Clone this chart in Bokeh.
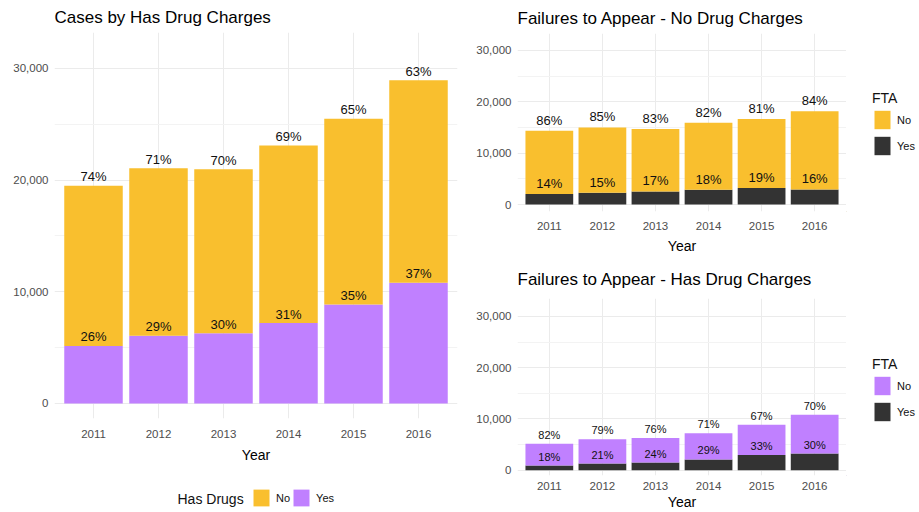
from bokeh.plotting import figure
from bokeh.models import (Range1d, FixedTicker, NumeralTickFormatter, Legend,
                          LegendItem, ColumnDataSource)
from bokeh.core.properties import value
from bokeh.layouts import row, column
from bokeh.embed import file_html
from bokeh.resources import INLINE

# ---------------- data ----------------
years = [2011, 2012, 2013, 2014, 2015, 2016]
# cases without drug charges, split by failure to appear
nodrug_fta_no = [12300, 12700, 12150, 13000, 13420, 15200]
nodrug_fta_yes = [2050, 2300, 2550, 2900, 3230, 2950]
# cases with drug charges, split by failure to appear
drug_fta_no = [4230, 4760, 4780, 5100, 5900, 7550]
drug_fta_yes = [920, 1300, 1500, 2100, 2950, 3250]

y_ticks = [0, 10000, 20000, 30000]
y_minor = [5000, 15000, 25000]
legend_labels = ["No", "Yes"]

YELLOW = "#F9BF2E"
PURPLE = "#C080FF"
DARK = "#333333"
GRID = "#EBEBEB"
FONT = "Liberation Sans"

no_drug_total = [a + b for a, b in zip(nodrug_fta_no, nodrug_fta_yes)]
drug_total = [a + b for a, b in zip(drug_fta_no, drug_fta_yes)]
xs = list(range(1, len(years) + 1))


def pct(part, whole):
    return [f"{round(100 * p / w)}%" for p, w in zip(part, whole)]


def make_fig(width, height, borders, title, title_standoff, y_rng,
             tick_standoff, label_standoff):
    p = figure(width=width, height=height, output_backend="svg",
               toolbar_location=None,
               x_range=Range1d(0.4, len(years) + 0.6),
               y_range=Range1d(*y_rng),
               min_border_left=borders[0], min_border_right=borders[1],
               min_border_top=borders[2], min_border_bottom=borders[3],
               title=title)
    p.outline_line_color = None
    p.background_fill_color = "white"
    p.border_fill_color = "white"
    p.title.text_font = FONT
    p.title.text_font_size = "17px"
    p.title.text_font_style = "normal"
    p.title.text_color = "#000000"
    p.title.align = "left"
    p.title.standoff = title_standoff

    xt = FixedTicker(ticks=xs)
    yt = FixedTicker(ticks=y_ticks, minor_ticks=y_minor)
    p.xaxis.ticker = xt
    p.xaxis.major_label_overrides = {x: str(y) for x, y in zip(xs, years)}
    p.yaxis.ticker = yt
    p.yaxis.formatter = NumeralTickFormatter(format="0,0")
    p.xgrid.ticker = xt
    p.ygrid.ticker = yt
    for ax in (p.xaxis, p.yaxis):
        ax.axis_line_color = None
        ax.major_tick_line_color = None
        ax.minor_tick_line_color = None
        ax.major_tick_out = 0
        ax.major_tick_in = 0
        ax.minor_tick_out = 0
        ax.major_label_text_font = FONT
        ax.major_label_text_font_size = "11.5px"
        ax.major_label_text_color = "#4D4D4D"
    p.xaxis.major_label_standoff = tick_standoff
    p.yaxis.major_label_standoff = 6
    p.xaxis.axis_label = "Year"
    p.xaxis.axis_label_text_font = FONT
    p.xaxis.axis_label_text_font_size = "14px"
    p.xaxis.axis_label_text_font_style = "normal"
    p.xaxis.axis_label_text_color = "#000000"
    p.xaxis.axis_label_standoff = label_standoff

    p.xgrid.grid_line_color = GRID
    p.ygrid.grid_line_color = GRID
    p.ygrid.minor_grid_line_color = "#F3F3F3"
    return p


def add_bars(p, yes_vals, no_vals, colors, font_size, offset):
    total = [a + b for a, b in zip(yes_vals, no_vals)]
    src = ColumnDataSource(dict(x=xs, yes=yes_vals, no=no_vals, total=total,
                                lab_yes=pct(yes_vals, total),
                                lab_no=pct(no_vals, total)))
    p.vbar_stack(["yes", "no"], x="x", width=0.9,
                 color=[colors[1], colors[0]], line_color=None, source=src)
    for ycol, tcol in (("total", "lab_no"), ("yes", "lab_yes")):
        p.text(x="x", y=ycol, text=tcol, source=src, text_align="center",
               text_baseline="middle", y_offset=offset,
               text_font_size=font_size, text_color="#111111",
               text_font=value(FONT))


def blank_fig(width, height, x_rng=(0, 1), y_rng=(0, 1), left=0, right=0):
    f = figure(width=width, height=height, output_backend="svg",
               toolbar_location=None, title=None,
               x_range=Range1d(*x_rng), y_range=Range1d(*y_rng),
               x_axis_location=None, y_axis_location=None,
               min_border=0, min_border_left=left, min_border_right=right,
               min_border_top=0, min_border_bottom=0)
    f.grid.visible = False
    f.outline_line_color = None
    f.background_fill_color = "white"
    f.border_fill_color = "white"
    return f


def style_legend(lg, gh, spacing):
    lg.border_line_color = None
    lg.background_fill_alpha = 0
    lg.padding = 0
    lg.margin = 0
    lg.glyph_width = 20
    lg.glyph_height = gh
    lg.label_height = gh
    lg.label_width = 1
    lg.label_standoff = 5
    lg.spacing = spacing
    lg.label_text_font = FONT
    lg.label_text_font_size = "11px"
    lg.label_text_color = "#111111"
    lg.title_text_font = FONT
    lg.title_text_font_size = "14px"
    lg.title_text_font_style = "normal"
    lg.title_text_color = "#111111"
    lg.title_standoff = 2


def legend_in(f, colors, **kw):
    # swatch renderers kept outside the visible range of the legend panel
    rs = [f.vbar(x=[-10], top=[-10], width=0.1, color=c, line_color=None)
          for c in colors]
    return Legend(items=[LegendItem(label=l, renderers=[r])
                         for l, r in zip(legend_labels, rs)], **kw)


# ---------------- left: cases by drug charges ----------------
left = make_fig(460, 470, (54, 3, 32, 52), "Cases by Has Drug Charges", 11,
                (-1350, 33220), 11, 6)
add_bars(left, drug_total, no_drug_total, (YELLOW, PURPLE), "13px", -9)

# legend strip under the left chart (data units = pixels of the strip)
ll = blank_fig(460, 42, x_rng=(54, 457), y_rng=(0, 42), left=54, right=3)
ll.text(x=[177], y=[14], text=["Has Drugs"], text_align="left",
        text_baseline="middle", text_font_size="14px", text_color="#111111",
        text_font=value(FONT))
leg = legend_in(ll, (YELLOW, PURPLE), orientation="horizontal",
                location=(197, 4))
style_legend(leg, 21, 1)
ll.add_layout(leg)

# ---------------- right top: FTA no drug charges ----------------
tr = make_fig(386, 256, (57, 0, 33, 43),
              "Failures to Appear - No Drug Charges", 12,
              (-1350, 33280), 10, 5)
add_bars(tr, nodrug_fta_yes, nodrug_fta_no, (YELLOW, DARK), "13px", -10.5)
trl = blank_fig(73, 256)
lg_tr = legend_in(trl, (YELLOW, DARK), title="FTA", location=(26, 54))
style_legend(lg_tr, 23, 3)
trl.add_layout(lg_tr)

# ---------------- right bottom: FTA has drug charges ----------------
br = make_fig(386, 256, (57, 0, 42, 36),
              "Failures to Appear - Has Drug Charges", 20,
              (-1030, 33490), 6, 1)
add_bars(br, drug_fta_yes, drug_fta_no, (PURPLE, DARK), "11px", -9)
brl = blank_fig(73, 256)
lg_br = legend_in(brl, (PURPLE, DARK), title="FTA", location=(26, 52))
style_legend(lg_br, 23, 3)
brl.add_layout(lg_br)

layout = row(column(left, ll), column(row(tr, trl), row(br, brl)))
open("out.html", "w").write(file_html(layout, INLINE))
